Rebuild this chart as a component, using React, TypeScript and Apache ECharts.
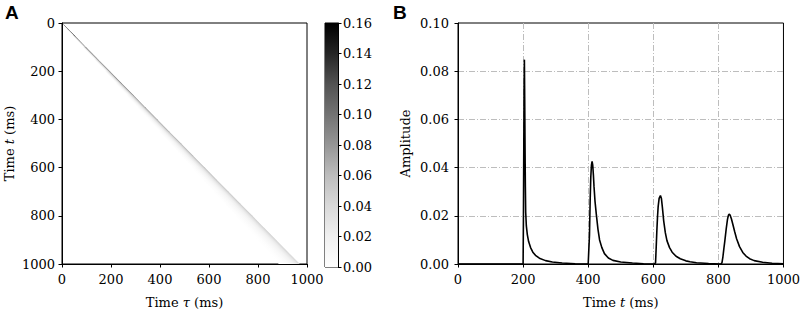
import React, { useEffect, useRef } from "react";
import * as echarts from "echarts";

// ---------- Panel A: kernel band ----------
const kernelT = [0, 25, 50, 100, 150, 200, 250, 300, 350, 400, 450, 500, 550, 600, 650, 700, 750, 800, 850, 900, 950, 1000];
const kernelEdge = [0, 24, 49, 97, 146, 195, 243, 292, 340, 389, 437, 486, 534, 583, 631, 680, 728, 777, 825, 874, 922, 971];
const kernelWidth = [0, 5, 8, 12, 16, 20, 25, 29, 33, 37, 41, 45, 50, 54, 58, 62, 66, 70, 74, 78, 82, 86];
const kernelPeak = [0.16, 0.16, 0.158, 0.145, 0.13, 0.117, 0.105, 0.095, 0.087, 0.08, 0.074, 0.069, 0.065, 0.061, 0.058, 0.055, 0.052, 0.05, 0.048, 0.046, 0.044, 0.042];

// ---------- Panel B: amplitude pulses ----------
const pulse1T = [200, 201, 202, 203, 204, 205, 206, 207, 208, 210, 213, 217, 223, 230, 238, 250, 269, 290, 320, 360, 400];
const pulse1V = [0, 0.018, 0.045, 0.072, 0.0848, 0.068, 0.048, 0.032, 0.0215, 0.0158, 0.0122, 0.0093, 0.0068, 0.0049, 0.0036, 0.0024, 0.0014, 0.0008, 0.0004, 0.0001, 0];
const pulse2T = [402, 404, 406, 408, 410, 412, 414, 416, 418, 421, 425, 430, 435, 442, 450, 462, 476, 500, 536, 570, 603];
const pulse2V = [0, 0.012, 0.026, 0.036, 0.041, 0.0426, 0.041, 0.037, 0.032, 0.026, 0.0206, 0.0145, 0.01, 0.0068, 0.0043, 0.0025, 0.0015, 0.0008, 0.0004, 0.0001, 0];
const pulse3T = [605, 607, 609, 611, 613, 615, 618, 622, 625, 628, 632, 637, 642, 650, 658, 670, 683, 700, 713, 733, 770, 805];
const pulse3V = [0, 0.0005, 0.007, 0.0138, 0.0195, 0.0238, 0.0272, 0.0284, 0.0272, 0.0235, 0.0179, 0.013, 0.0097, 0.0068, 0.0049, 0.0032, 0.0022, 0.0013, 0.0009, 0.0005, 0.0002, 0];
const pulse4T = [808, 811, 814, 817, 820, 824, 828, 831, 833, 836, 840, 845, 850, 856, 865, 875, 885, 896, 910, 936, 965, 1000];
const pulse4V = [0, 0.0005, 0.003, 0.0065, 0.0097, 0.0145, 0.0185, 0.0203, 0.0207, 0.0203, 0.0188, 0.0162, 0.0135, 0.0105, 0.0072, 0.0048, 0.0033, 0.0022, 0.0014, 0.0007, 0.0003, 0.0001];

const timeMin = 0;
const timeMax = 1000;
const timeStep = 200;
const colorMax = 0.16;
const colorStep = 0.02;
const ampMax = 0.1;
const ampStep = 0.02;

const GREYS = ["#ffffff", "#f0f0f0", "#d9d9d9", "#bdbdbd", "#969696", "#737373", "#525252", "#252525", "#000000"];

function hexToRgb(h: string) {
  return [parseInt(h.slice(1, 3), 16), parseInt(h.slice(3, 5), 16), parseInt(h.slice(5, 7), 16)];
}
function greyFor(v: number) {
  const f = Math.max(0, Math.min(1, v / colorMax)) * 8;
  const i = Math.min(7, Math.floor(f));
  const r = f - i;
  const a = hexToRgb(GREYS[i]);
  const b = hexToRgb(GREYS[i + 1]);
  const c = a.map((x, k) => Math.round(x + (b[k] - x) * r));
  return `rgb(${c[0]},${c[1]},${c[2]})`;
}

const FONT = "DejaVu Serif";
const fadeOffsets = [0, 0.06, 0.15, 0.3, 0.5, 0.75, 1];
const fadeMult = [1, 0.85, 0.6, 0.38, 0.2, 0.07, 0];

export default function App() {
  const ref = useRef<HTMLDivElement>(null);
  useEffect(() => {
    if (!ref.current) return;
    const chart = echarts.init(ref.current, null, { renderer: "svg" });

    const lastSeg = kernelT.length - 2;
    const bandData = kernelT.slice(0, -1).map((t, i) => [
      t, kernelEdge[i], kernelWidth[i], kernelPeak[i],
      kernelT[i + 1], kernelEdge[i + 1], kernelWidth[i + 1], kernelPeak[i + 1],
      i === lastSeg ? 0 : 1,
    ]);

    const lineData: number[][] = [[0, 0]];
    [[pulse1T, pulse1V], [pulse2T, pulse2V], [pulse3T, pulse3V], [pulse4T, pulse4V]].forEach(([ts, vs]) => {
      ts.forEach((t, i) => lineData.push([t, vs[i]]));
    });

    const tickLabel = { color: "#000", fontFamily: FONT, fontSize: 13 };
    const axisLine = { show: true, onZero: false, lineStyle: { color: "#000", width: 1 } };
    const axisTick = { show: true, length: 3.5, lineStyle: { color: "#000", width: 1 } };
    const nameStyle = () => ({
      color: "#000",
      fontFamily: FONT,
      fontSize: 13,
      rich: {
        r: { fontFamily: FONT, fontSize: 13, color: "#000" },
        i: { fontFamily: FONT, fontSize: 13, fontStyle: "italic", color: "#000" },
      },
    });
    const gridDash = { color: "#bdbdbd", width: 1, type: [6, 2, 1, 2] as any };
    const plainNum = (v: number) => String(v);

    const colorbarStops = GREYS.slice().reverse().map((c, i) => ({ offset: i / 8, color: c }));

    const option: any = {
      animation: false,
      textStyle: { fontFamily: FONT },
      grid: [
        { left: 62, top: 23, width: 245, height: 244, show: true, borderColor: "#000", borderWidth: 1, backgroundColor: "transparent" },
        { left: 325, top: 23, width: 13, height: 244, show: true, borderColor: "#000", borderWidth: 1, backgroundColor: "transparent" },
        { left: 458, top: 23, width: 330, height: 244, show: true, borderColor: "#000", borderWidth: 1, backgroundColor: "transparent" },
      ],
      xAxis: [
        {
          gridIndex: 0, type: "value", position: "bottom", min: timeMin, max: timeMax, interval: timeStep,
          axisLine, axisTick, splitLine: { show: false },
          axisLabel: { ...tickLabel, margin: 9, formatter: plainNum },
          name: "{r|Time }{i|τ}{r| (ms)}", nameLocation: "middle", nameGap: 32,
          nameTextStyle: nameStyle(),
        },
        { gridIndex: 1, type: "value", min: 0, max: 1, show: false },
        {
          gridIndex: 2, type: "value", position: "bottom", min: timeMin, max: timeMax, interval: timeStep,
          axisLine, axisTick,
          splitLine: { show: true, showMinLine: false, showMaxLine: false, lineStyle: gridDash },
          axisLabel: { ...tickLabel, margin: 9, formatter: plainNum },
          name: "{r|Time }{i|t}{r| (ms)}", nameLocation: "middle", nameGap: 32,
          nameTextStyle: nameStyle(),
        },
      ],
      yAxis: [
        {
          gridIndex: 0, type: "value", position: "left", min: timeMin, max: timeMax, interval: timeStep, inverse: true,
          axisLine, axisTick, splitLine: { show: false },
          axisLabel: { ...tickLabel, margin: 7, formatter: plainNum },
          name: "{r|Time }{i|t}{r| (ms)}", nameLocation: "middle", nameGap: 46, nameRotate: 90,
          nameTextStyle: nameStyle(),
        },
        {
          gridIndex: 1, type: "value", min: 0, max: colorMax, interval: colorStep, position: "right",
          axisLine, axisTick, splitLine: { show: false },
          axisLabel: { ...tickLabel, margin: 5, formatter: (v: number) => v.toFixed(2) },
        },
        {
          gridIndex: 2, type: "value", position: "left", min: 0, max: ampMax, interval: ampStep,
          axisLine, axisTick,
          splitLine: { show: true, showMinLine: false, showMaxLine: false, lineStyle: gridDash },
          axisLabel: { ...tickLabel, margin: 9, formatter: (v: number) => v.toFixed(2) },
          name: "Amplitude", nameLocation: "middle", nameGap: 46, nameRotate: 90,
          nameTextStyle: nameStyle(),
        },
      ],
      graphic: [
        { type: "text", left: 5, top: 3, style: { text: "A", fontFamily: "Liberation Sans", fontWeight: "bold", fontSize: 19, fill: "#000" } },
        { type: "text", left: 393, top: 3, style: { text: "B", fontFamily: "Liberation Sans", fontWeight: "bold", fontSize: 19, fill: "#000" } },
      ],
      series: [
        {
          type: "custom",
          xAxisIndex: 0, yAxisIndex: 0,
          clip: true,
          data: bandData,
          encode: { x: [1, 5], y: [0, 4] },
          renderItem: (params: any, api: any) => {
            const t0 = api.value(0), e0 = api.value(1), w0 = api.value(2), p0 = api.value(3);
            const t1 = api.value(4), e1 = api.value(5), w1 = api.value(6), p1 = api.value(7);
            const extend = api.value(8);
            const A = api.coord([e0, t0]);
            const B = api.coord([e1, t1]);
            const C = api.coord([e1 - w1, t1]);
            const D = api.coord([e0 - w0, t0]);
            let dx = B[0] - A[0], dy = B[1] - A[1];
            const len = Math.hypot(dx, dy) || 1;
            dx /= len; dy /= len;
            const ext = extend ? 0.8 : 0;
            const B2 = [B[0] + dx * ext, B[1] + dy * ext];
            const C2 = [C[0] + dx * ext, C[1] + dy * ext];
            const nx = -dy, ny = dx;
            const perp = Math.max(1, ((D[0] - A[0]) * nx + (D[1] - A[1]) * ny + (C[0] - B[0]) * nx + (C[1] - B[1]) * ny) / 2);
            const M = [(A[0] + B[0]) / 2, (A[1] + B[1]) / 2];
            const peak = (p0 + p1) / 2;
            const grad = new echarts.graphic.LinearGradient(
              M[0], M[1], M[0] + nx * perp, M[1] + ny * perp,
              fadeOffsets.map((o, k) => ({ offset: o, color: greyFor(peak * fadeMult[k]) })),
              true
            );
            return {
              type: "polygon",
              shape: { points: [A, B2, C2, D] },
              style: { fill: grad, stroke: null },
            };
          },
          z: 1,
        },
        {
          type: "custom",
          xAxisIndex: 1, yAxisIndex: 1,
          data: [[0.5, 0.08]],
          renderItem: (params: any) => {
            const cs = params.coordSys;
            return {
              type: "rect",
              shape: { x: cs.x, y: cs.y, width: cs.width, height: cs.height },
              style: { fill: new echarts.graphic.LinearGradient(0, 0, 0, 1, colorbarStops) },
            };
          },
          z: 1,
        },
        {
          type: "line",
          xAxisIndex: 2, yAxisIndex: 2,
          data: lineData,
          showSymbol: false,
          symbol: "none",
          lineStyle: { color: "#000", width: 1.6 },
          z: 3,
        },
      ],
    };
    chart.setOption(option);
    return () => chart.dispose();
  }, []);
  return <div ref={ref} style={{ position: "absolute", left: 0, top: 0, width: 803, height: 314 }} />;
}
